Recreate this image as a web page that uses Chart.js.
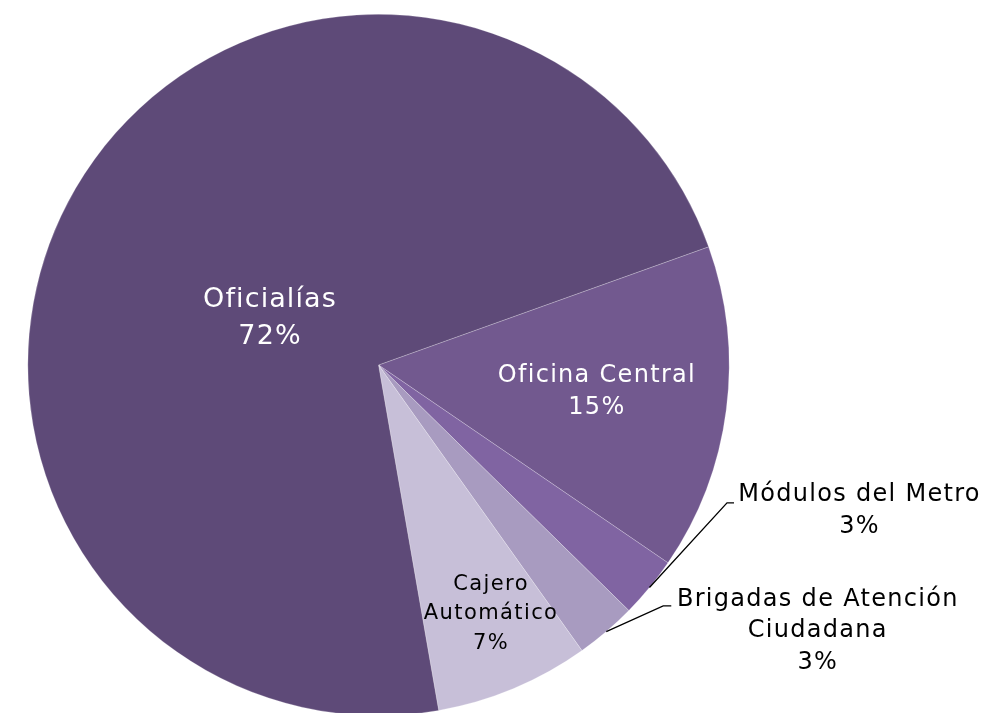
<!DOCTYPE html>
<html>
<head>
<meta charset="utf-8">
<script src="https://cdn.jsdelivr.net/npm/chart.js@4.4.1/dist/chart.umd.min.js"></script>
<style>
  html, body { margin: 0; padding: 0; background: #fff; overflow: hidden; }
  #wrap { width: 986px; height: 730px; position: relative; }
</style>
</head>
<body>
<div id="wrap"><canvas id="chart"></canvas></div>
<script>
// ---------- DATA ----------
const categories = ["Oficina Central", "Módulos del Metro", "Brigadas de Atención Ciudadana", "Cajero Automático", "Oficialías"];
const shares = [15.0, 2.8, 2.8, 7.1, 72.2];
const pctText = ["15%", "3%", "3%", "7%", "72%"];
const labelLines = [
  ["Oficina Central", "15%"],
  ["Módulos del Metro", "3%"],
  ["Brigadas de Atención", "Ciudadana", "3%"],
  ["Cajero", "Automático", "7%"],
  ["Oficialías", "72%"]
];
const sliceColors = ["#72598F", "#8064A2", "#A89BC0", "#C7BFD8", "#5E4A78"];

// ---------- LABEL LAYOUT (units of radius from centre) ----------
const FONT = '"DejaVu Sans", sans-serif';
const labelStyle = [
  { at: [0.621, 0.077], size: 24, ls: 1.3, lh: 32, color: "#fff" },
  { at: [1.370, 0.416], size: 24, ls: 1.3, lh: 32, color: "#000", leader: [[1.0, null], [0.994, 0.393], [1.014, 0.393]] },
  { at: [1.251, 0.758], size: 24, ls: 1.3, lh: 31.5, color: "#000", leader: [[1.0, null], [0.812, 0.687], [0.835, 0.687]] },
  { at: [0.319, 0.709], size: 21, ls: 1.4, lh: 29.5, color: "#000" },
  { at: [-0.311, -0.134], size: 27, ls: 1.1, lh: 37, color: "#fff" }
];

const pieLabels = {
  id: "pieLabels",
  afterDatasetsDraw(chart) {
    const { ctx } = chart;
    const arcs = chart.getDatasetMeta(0).data;
    arcs.forEach((arc, i) => {
      const st = labelStyle[i];
      const { x, y, outerRadius: r, startAngle, endAngle } = arc.getProps(["x", "y", "outerRadius", "startAngle", "endAngle"], true);
      ctx.save();
      if (st.leader) {
        const mid = (startAngle + endAngle) / 2;
        ctx.beginPath();
        ctx.strokeStyle = "#000";
        ctx.lineWidth = 1.3;
        st.leader.forEach((p, k) => {
          let px, py;
          if (p[1] === null) { px = x + Math.cos(mid) * r; py = y + Math.sin(mid) * r; }
          else { px = x + p[0] * r; py = y + p[1] * r; }
          k === 0 ? ctx.moveTo(px, py) : ctx.lineTo(px, py);
        });
        ctx.stroke();
      }
      const cx = x + st.at[0] * r;
      const cy = y + st.at[1] * r;
      const lines = labelLines[i];
      ctx.font = `${st.size}px ${FONT}`;
      ctx.letterSpacing = st.ls + "px";
      ctx.fillStyle = st.color;
      ctx.textAlign = "center";
      ctx.textBaseline = "middle";
      const top = cy - (lines.length - 1) * st.lh / 2;
      lines.forEach((t, k) => ctx.fillText(t, cx + st.ls / 2, top + k * st.lh));
      ctx.restore();
    });
  }
};

new Chart(document.getElementById("chart"), {
  type: "pie",
  data: {
    labels: categories,
    datasets: [{
      data: shares,
      backgroundColor: sliceColors,
      borderColor: "rgba(255,255,255,0.3)",
      borderWidth: 0.75
    }]
  },
  options: {
    responsive: true,
    maintainAspectRatio: false,
    animation: false,
    devicePixelRatio: 1,
    rotation: 70.3,
    layout: { padding: { left: 27, top: 14, right: 256, bottom: 14 } },
    plugins: { legend: { display: false }, tooltip: { enabled: false } }
  },
  plugins: [pieLabels]
});
</script>
</body>
</html>
